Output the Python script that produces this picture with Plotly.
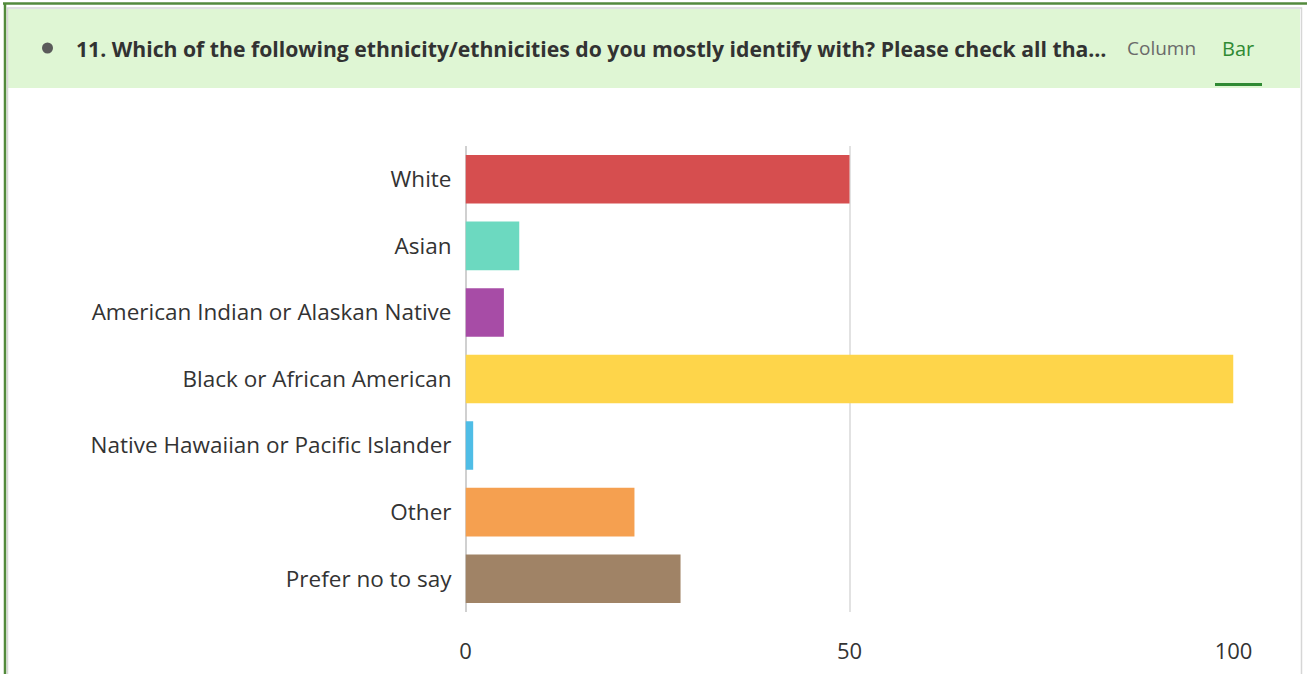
import plotly.graph_objects as go

# Survey responses: ethnicity counts
categories = [
    "White",
    "Asian",
    "American Indian or Alaskan Native",
    "Black or African American",
    "Native Hawaiian or Pacific Islander",
    "Other",
    "Prefer no to say",
]
counts = [50, 7, 5, 100, 1, 22, 28]
bar_colors = ["#d64e4f", "#6cd9c0", "#a74ca6", "#fed54a", "#4fbde6", "#f5a050", "#a08366"]
x_ticks = [0, 50, 100]

W, H = 1307, 674
FONT = "Open Sans"

fig = go.Figure(
    go.Bar(
        y=categories,
        x=counts,
        orientation="h",
        marker=dict(color=bar_colors, line=dict(width=0)),
        width=0.73,
        hoverinfo="x+y",
    )
)

fig.update_layout(
    width=W,
    height=H,
    margin=dict(l=0, r=0, t=0, b=0),
    paper_bgcolor="white",
    plot_bgcolor="white",
    showlegend=False,
    font=dict(family=FONT, color="#333333"),
    xaxis=dict(
        domain=[465.5 / W, 1233.5 / W],
        range=[0, 100],
        tickvals=x_ticks,
        ticktext=[str(v) for v in x_ticks],
        showgrid=True,
        gridcolor="#e2e2e2",
        gridwidth=2,
        zeroline=True,
        zerolinecolor="#d0d0d0",
        zerolinewidth=2,
        showline=False,
        ticks="",
        tickfont=dict(size=22, color="#333333", family=FONT),
        ticklabelstandoff=24,
        automargin=False,
        fixedrange=True,
    ),
    yaxis=dict(
        domain=[1 - 612 / H, 1 - 146 / H],
        categoryorder="array",
        categoryarray=categories[::-1],
        showgrid=False,
        zeroline=False,
        showline=False,
        ticks="",
        tickfont=dict(size=22.5, color="#333333", family=FONT),
        ticklabelstandoff=13,
        automargin=False,
        fixedrange=True,
    ),
)

shapes = [
    # header band
    dict(type="rect", xref="paper", yref="paper", x0=8 / W, x1=1300 / W,
         y0=1 - 88 / H, y1=1 - 9 / H, fillcolor="#dff6d4", line=dict(width=0), layer="below"),
    # inner grey frame
    dict(type="rect", xref="paper", yref="paper", x0=7.5 / W, x1=1301.5 / W,
         y0=-0.01, y1=1 - 8 / H, fillcolor="rgba(0,0,0,0)", line=dict(color="#d6d6d6", width=1.5)),
    # outer green frame
    dict(type="line", xref="paper", yref="paper", x0=3 / W, x1=1, y0=1 - 3.5 / H, y1=1 - 3.5 / H,
         line=dict(color="#538a3c", width=2.5)),
    dict(type="line", xref="paper", yref="paper", x0=5 / W, x1=5 / W, y0=0, y1=1 - 3 / H,
         line=dict(color="#538a3c", width=2.5)),
    # bullet dot
    dict(type="circle", xref="paper", yref="paper", x0=42 / W, x1=53 / W,
         y0=1 - 53.5 / H, y1=1 - 42.5 / H, fillcolor="#5a5a5a", line=dict(width=0)),
    # active tab underline
    dict(type="rect", xref="paper", yref="paper", x0=1215 / W, x1=1262 / W,
         y0=1 - 86 / H, y1=1 - 83 / H, fillcolor="#2f8a33", line=dict(width=0)),
]
fig.update_layout(shapes=shapes)

annotations = [
    dict(text="<b>11. Which of the following ethnicity/ethnicities do you mostly identify with? Please check all tha…</b>",
         x=74 / W, y=1 - 48 / H, xanchor="left", yanchor="middle",
         font=dict(size=21.2, color="#323232", family=FONT)),
    dict(text="Column", x=1161 / W, y=1 - 48 / H, xanchor="center", yanchor="middle",
         font=dict(size=19, color="#6a6a6a", family=FONT)),
    dict(text="Bar", x=1238 / W, y=1 - 48 / H, xanchor="center", yanchor="middle",
         font=dict(size=20, color="#2f8a33", family=FONT)),
]
for a in annotations:
    a.update(xref="paper", yref="paper", showarrow=False)
fig.update_layout(annotations=annotations)

fig.write_html("out.html", config={"displayModeBar": False})
